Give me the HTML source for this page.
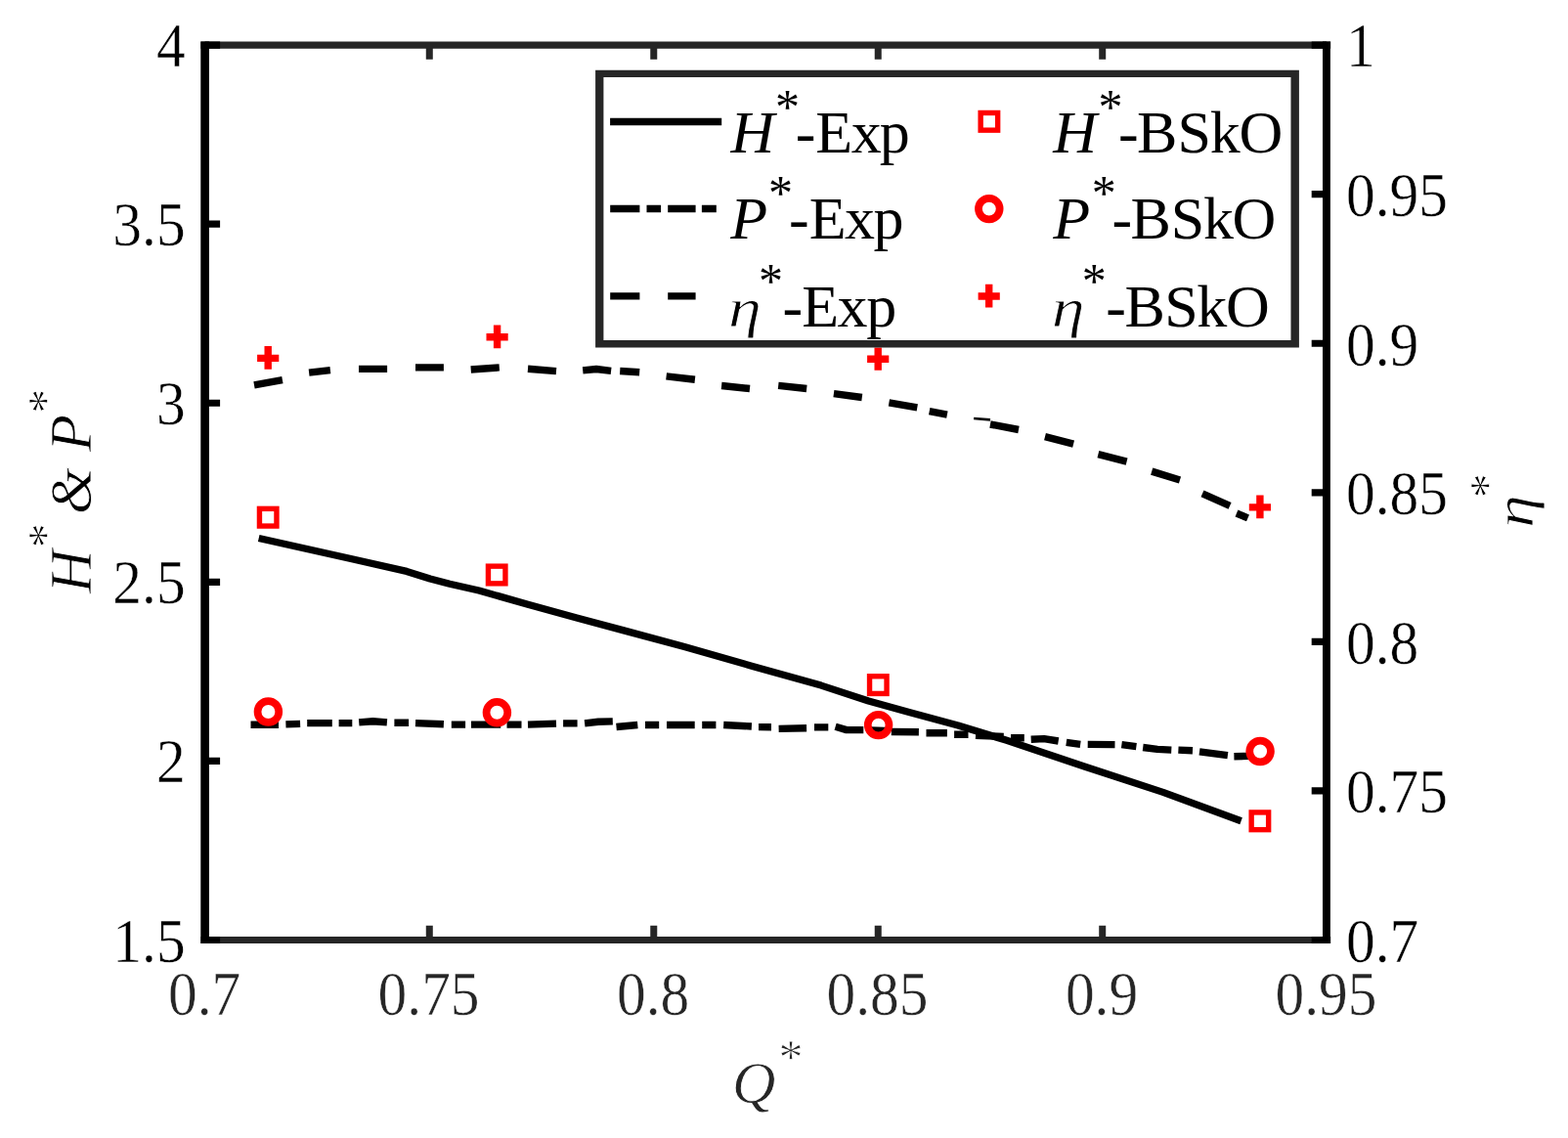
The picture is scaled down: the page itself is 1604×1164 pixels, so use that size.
<!DOCTYPE html>
<html lang="en">
<head>
<meta charset="utf-8">
<title>Pump performance curves</title>
<style>
html,body{margin:0;padding:0;background:#fff;}
body{width:1604px;height:1164px;overflow:hidden;}
svg{display:block;}
text{font-family:"Liberation Serif","DejaVu Serif",serif;paint-order:fill stroke;stroke-linejoin:round;}
</style>
</head>
<body>
<svg width="1604" height="1164" viewBox="0 0 1604 1164">
<rect width="1604" height="1164" fill="#fff"/>
<g id="axes" fill="none">
<path d="M205.40,46.1 H1361.20 M205.40,961.5 H1361.20" stroke="#262626" stroke-width="7.2"/>
<path d="M439.28,46.1 V60.80 M439.28,961.5 V946.80 M668.76,46.1 V60.80 M668.76,961.5 V946.80 M898.24,46.1 V60.80 M898.24,961.5 V946.80 M1127.72,46.1 V60.80 M1127.72,961.5 V946.80" stroke="#262626" stroke-width="7"/>
<path d="M209.6,42.50 V965.10" stroke="#000" stroke-width="8.6"/>
<path d="M1356.95,42.50 V965.10" stroke="#000" stroke-width="7.9"/>
<path d="M209.6,961.50 H225.10 M209.6,778.42 H225.10 M209.6,595.34 H225.10 M209.6,412.26 H225.10 M209.6,229.18 H225.10 M209.6,46.10 H225.10 M1357.0,961.50 H1341.70 M1357.0,808.93 H1341.70 M1357.0,656.37 H1341.70 M1357.0,503.80 H1341.70 M1357.0,351.23 H1341.70 M1357.0,198.67 H1341.70 M1357.0,46.10 H1341.70" stroke="#000" stroke-width="7.2"/>
</g>
<g id="ticklabels" font-size="63.2">
<text transform="translate(189.60,983.50) scale(0.94,1)" text-anchor="end" fill="#000" stroke="#fff" stroke-width="0.45">1.5</text>
<text transform="translate(189.60,800.42) scale(0.94,1)" text-anchor="end" fill="#000" stroke="#fff" stroke-width="0.45">2</text>
<text transform="translate(189.60,617.34) scale(0.94,1)" text-anchor="end" fill="#000" stroke="#fff" stroke-width="0.45">2.5</text>
<text transform="translate(189.60,434.26) scale(0.94,1)" text-anchor="end" fill="#000" stroke="#fff" stroke-width="0.45">3</text>
<text transform="translate(189.60,251.18) scale(0.94,1)" text-anchor="end" fill="#000" stroke="#fff" stroke-width="0.45">3.5</text>
<text transform="translate(189.60,68.10) scale(0.94,1)" text-anchor="end" fill="#000" stroke="#fff" stroke-width="0.45">4</text>
<text transform="translate(1377.00,984.00) scale(0.94,1)" text-anchor="start" fill="#000" stroke="#fff" stroke-width="0.45">0.7</text>
<text transform="translate(1377.00,831.43) scale(0.94,1)" text-anchor="start" fill="#000" stroke="#fff" stroke-width="0.45">0.75</text>
<text transform="translate(1377.00,678.87) scale(0.94,1)" text-anchor="start" fill="#000" stroke="#fff" stroke-width="0.45">0.8</text>
<text transform="translate(1377.00,526.30) scale(0.94,1)" text-anchor="start" fill="#000" stroke="#fff" stroke-width="0.45">0.85</text>
<text transform="translate(1377.00,373.73) scale(0.94,1)" text-anchor="start" fill="#000" stroke="#fff" stroke-width="0.45">0.9</text>
<text transform="translate(1377.00,221.17) scale(0.94,1)" text-anchor="start" fill="#000" stroke="#fff" stroke-width="0.45">0.95</text>
<text transform="translate(1377.00,68.10) scale(0.94,1)" text-anchor="start" fill="#000" stroke="#fff" stroke-width="0.45">1</text>
<text transform="translate(209.10,1038.30) scale(0.94,1)" text-anchor="middle" fill="#262626" stroke="#fff" stroke-width="0.45">0.7</text>
<text transform="translate(438.58,1038.30) scale(0.94,1)" text-anchor="middle" fill="#262626" stroke="#fff" stroke-width="0.45">0.75</text>
<text transform="translate(668.06,1038.30) scale(0.94,1)" text-anchor="middle" fill="#262626" stroke="#fff" stroke-width="0.45">0.8</text>
<text transform="translate(897.54,1038.30) scale(0.94,1)" text-anchor="middle" fill="#262626" stroke="#fff" stroke-width="0.45">0.85</text>
<text transform="translate(1127.02,1038.30) scale(0.94,1)" text-anchor="middle" fill="#262626" stroke="#fff" stroke-width="0.45">0.9</text>
<text transform="translate(1356.50,1038.30) scale(0.94,1)" text-anchor="middle" fill="#262626" stroke="#fff" stroke-width="0.45">0.95</text>
</g>
<g id="axislabels">
<text font-size="62.0" fill="#262626" stroke="#fff" stroke-width="0.8"><tspan x="748.8" y="1127.6" font-style="italic">Q</tspan><tspan x="796.4" y="1097.6" font-size="50">*</tspan></text>
<text transform="translate(92.80,609.20) rotate(-90)" font-size="62.0" fill="#000" stroke="#fff" stroke-width="0.8"><tspan x="2.4" y="0.0" font-style="italic">H</tspan><tspan x="49.0" y="-30.0" font-size="50">*</tspan><tspan x="67.5 83.0 131.8 147.3" y="0.0" font-style="italic"> &amp; P</tspan><tspan x="186.4" y="-30.0" font-size="50">*</tspan></text>
<text transform="translate(1567.60,538.50) rotate(-90) translate(-1.47,0) scale(1.1,0.93)" font-size="62.0" font-style="italic" fill="#000" stroke="#fff" stroke-width="0.9">η</text>
<text transform="translate(1567.60,538.50) rotate(-90)" font-size="62.0" fill="#000" stroke="#fff" stroke-width="0.8"><tspan x="29.2" y="-30.0" font-size="50">*</tspan></text>
</g>
<g id="curves" fill="none" stroke="#000" stroke-width="7.4" stroke-linejoin="round">
<path id="eta-exp" d="M260.0,393.8 L288.9,388.6 M316.1,381.1 L337.9,378.6 M367.0,377.4 L396.1,377.4 M425.0,375.9 L453.9,375.9 M481.7,378.0 L510.8,375.9 M540.0,377.3 L569.0,379.6 M596.2,378.9 L610.0,377.5 L625.1,379.3 M634.2,379.5 L654.2,380.8 M681.6,384.9 L710.9,388.3 M738.1,394.5 L767.0,397.5 M796.2,394.4 L825.2,397.5 M852.9,402.6 L881.8,406.5 M909.4,411.8 L938.3,416.8 M950.7,420.7 L968.9,424.2 M1013.0,434.0 L1042.0,439.5 M1069.0,446.7 L1098.1,454.2 M1123.4,464.6 L1152.6,472.1 M1178.2,482.1 L1207.0,491.0 M1230.0,504.9 L1258.1,517.4 M1265.0,525.0 L1276.5,529.9"/>
<path d="M996.1,428.0 L1013.0,429.4" stroke-width="2.6"/>
<path id="p-exp" d="M256.5,741.3 L285.0,741.3 M292.4,740.9 L307.1,740.4 M314.2,739.6 L339.8,739.6 M346.6,739.6 L360.3,739.6 M367.2,738.9 L381.5,737.7 L395.9,738.9 M403.4,739.2 L418.1,739.2 M425.0,739.6 L453.9,740.8 M461.8,741.1 L476.1,741.1 M482.0,741.1 L512.3,741.1 M518.5,741.1 L533.5,741.1 M540.0,741.1 L569.0,740.1 M576.1,739.9 L590.6,739.9 M598.1,739.9 L612.0,738.3 L626.8,737.9 M630.5,743.5 L652.3,741.5 M660.0,741.5 L674.2,741.5 M682.0,741.5 L710.7,741.5 M718.2,741.5 L732.4,741.5 M740.2,741.5 L768.9,743.0 M776.0,743.6 L789.0,743.7 M796.6,745.4 L825.1,744.8 M833.0,743.9 L847.3,743.9 M854.6,743.2 L866.0,746.6 L883.3,746.6 M890.5,747.0 L905.0,747.5 M911.8,748.5 L939.9,748.8 M947.5,749.7 L968.9,749.8 M976.1,751.3 L990.5,751.3 M998.0,752.3 L1026.7,753.5 M1034.0,754.8 L1047.8,754.8 M1054.7,756.2 L1068.0,755.6 L1082.7,758.0 M1090.8,759.3 L1105.2,761.3 M1112.7,761.4 L1140.5,761.6 M1147.4,761.6 L1162.4,763.6 M1169.2,764.5 L1184.0,766.4 L1198.3,767.1 M1205.4,767.1 L1220.0,767.8 M1227.0,768.8 L1255.9,772.6 M1262.4,773.7 L1277.0,773.4"/>
<path id="h-exp" d="M264.7,550.5 L360.0,571.8 L416.0,584.4 L440.0,592.0 L460.0,597.2 L489.9,604.0 L540.0,618.3 L590.0,632.1 L640.0,645.4 L700.0,661.6 L769.8,681.4 L840.0,701.1 L888.5,717.0 L930.0,728.6 L980.0,742.0 L1029.8,757.3 L1110.0,784.2 L1189.8,810.4 L1269.6,839.7" stroke-width="7.3"/>
</g>
<g id="markers" fill="none" stroke="#ff0000">
<g stroke-width="5.4"><rect x="265.45" y="520.35" width="17.5" height="17.7"/><rect x="499.45" y="579.15" width="17.5" height="17.7"/><rect x="889.55" y="691.75" width="17.5" height="17.7"/><rect x="1280.15" y="830.95" width="17.5" height="17.7"/></g>
<g stroke-width="7.75"><circle cx="274.4" cy="728.0" r="10.85"/><circle cx="508.4" cy="728.8" r="10.85"/><circle cx="898.6" cy="741.6" r="10.85"/><circle cx="1289.1" cy="768.5" r="10.85"/></g>
<g stroke-width="7.4"><path d="M263.1,366.4 H285.3 M274.2,354.1 V377.8"/><path d="M497.5,344.8 H519.7 M508.6,332.5 V356.2"/><path d="M887.1,367.3 H909.3 M898.2,355.0 V378.7"/><path d="M1277.8,518.9 H1300.0 M1288.9,506.6 V530.3"/></g>
</g>
<g id="legend">
<rect x="609.1" y="71.7" width="719.8" height="283.8" fill="#fff"/>
<path d="M609.1,71.7 H1328.9 V355.5 H609.1 Z M617.4,79.0 V348.0 H1320.5 V79.0 Z" fill="#262626" fill-rule="evenodd"/>
<g stroke="#000" stroke-width="7.3" fill="none">
<path d="M624.1,124.5 H738.2"/>
<path d="M624.2,213.5 H654.4 M661.5,213.5 H676.1 M683.2,213.5 H711.6 M717.9,213.5 H732.8"/>
<path d="M624.2,302.8 H654.4 M683.2,302.8 H711.6"/>
</g>
<text font-size="62.0" fill="#000"><tspan x="747.5" y="155.5" font-style="italic">H</tspan><tspan x="793.0" y="125.5" font-size="50">*</tspan><tspan x="813.8 834.2 870.8 899.8" y="155.5">-Exp</tspan></text>
<text font-size="62.0" fill="#000"><tspan x="747.2" y="244.4" font-style="italic">P</tspan><tspan x="786.1" y="214.4" font-size="50">*</tspan><tspan x="806.9 827.7 863.9 893.5" y="244.4">-Exp</tspan></text>
<text transform="translate(744.98,334.00) scale(1.1,0.93)" font-size="62.0" font-style="italic" fill="#000" stroke="#fff" stroke-width="0.9">η</text>
<text font-size="62.0" fill="#000"><tspan x="776.1" y="304.0" font-size="50">*</tspan><tspan x="800.4 820.2 856.5 886.2" y="334.0">-Exp</tspan></text>
<text font-size="62.0" fill="#000"><tspan x="1077.2" y="155.5" font-style="italic">H</tspan><tspan x="1123.6" y="125.5" font-size="50">*</tspan><tspan x="1144.1 1163.0 1204.6 1237.7 1267.5" y="155.5">-BSkO</tspan></text>
<text font-size="62.0" fill="#000"><tspan x="1077.3" y="244.4" font-style="italic">P</tspan><tspan x="1116.7" y="214.4" font-size="50">*</tspan><tspan x="1137.4 1156.6 1197.7 1230.9 1260.5" y="244.4">-BSkO</tspan></text>
<text transform="translate(1075.78,334.00) scale(1.1,0.93)" font-size="62.0" font-style="italic" fill="#000" stroke="#fff" stroke-width="0.9">η</text>
<text font-size="62.0" fill="#000"><tspan x="1106.8" y="304.0" font-size="50">*</tspan><tspan x="1131.3 1150.4 1191.2 1224.3 1254.0" y="334.0">-BSkO</tspan></text>
<g fill="none" stroke="#ff0000">
<g stroke-width="5.4"><rect x="1003.15" y="115.45" width="17.5" height="17.7"/></g>
<g stroke-width="7.75"><circle cx="1011.8" cy="213.6" r="10.85"/></g>
<g stroke-width="7.4"><path d="M1000.6,303.0 H1022.8 M1011.7,290.7 V314.4"/></g>
</g>
</g>
</svg>
</body>
</html>
